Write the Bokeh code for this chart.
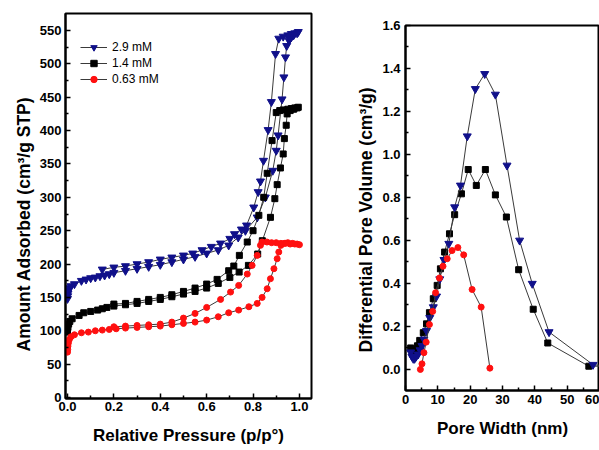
from bokeh.plotting import figure
from bokeh.layouts import row, column
from bokeh.models import FixedTicker, Range1d, Legend, LegendItem, NumeralTickFormatter, Title
from bokeh.embed import file_html
from bokeh.resources import INLINE

FONT = "Liberation Sans"

# ---------------- Left panel: N2 isotherms ----------------
series_labels = ["2.9 mM", "1.4 mM", "0.63 mM"]

p_29_ads = [0.000, 0.001, 0.002, 0.004, 0.008, 0.015, 0.03, 0.06, 0.08, 0.10, 0.12, 0.14, 0.16, 0.18, 0.20,
            0.25, 0.30, 0.35, 0.40, 0.45, 0.50, 0.55, 0.60, 0.65, 0.695, 0.736, 0.767, 0.818, 0.853, 0.885,
            0.90, 0.908, 0.925, 0.933, 0.940, 0.945, 0.955, 0.965, 0.975, 0.99]
v_29_ads = [148, 152, 156, 160, 164, 167, 170, 175, 177, 179, 180, 182, 183, 185, 187,
            190, 193, 196, 199, 203, 207, 211, 216, 221, 228, 240, 250, 270, 300, 340,
            370, 393, 447, 480, 510, 527, 535, 540, 543, 546]
p_29_des = [0.995, 0.98, 0.965, 0.95, 0.93, 0.911, 0.897, 0.879, 0.865, 0.845, 0.832, 0.822, 0.803, 0.772,
            0.75, 0.72, 0.70, 0.66, 0.62, 0.58, 0.54, 0.50, 0.45, 0.40, 0.35, 0.30, 0.25, 0.20, 0.15]
v_29_des = [548, 546, 545, 543, 541, 538, 515, 443, 401, 355, 324, 308, 285, 258,
            252, 245, 238, 231, 226, 221, 216, 213, 210, 207, 203, 200, 197, 195, 192]

p_14_ads = [0.000, 0.002, 0.005, 0.01, 0.02, 0.05, 0.07, 0.10, 0.13, 0.15, 0.17, 0.20, 0.25, 0.30, 0.35,
            0.40, 0.45, 0.50, 0.55, 0.60, 0.65, 0.70, 0.74, 0.78, 0.82, 0.84, 0.875, 0.894, 0.904, 0.918,
            0.930, 0.935, 0.943, 0.947, 0.96, 0.975, 0.99]
v_14_ads = [98, 105, 110, 114, 118, 123, 127, 129, 131, 133, 135, 137, 139, 141, 144,
            147, 151, 155, 159, 164, 171, 180, 188, 198, 215, 235, 270, 298, 319, 344,
            365, 388, 408, 425, 430, 432, 434]
p_14_des = [0.995, 0.98, 0.965, 0.95, 0.93, 0.915, 0.90, 0.882, 0.861, 0.846, 0.825, 0.80, 0.775, 0.741,
            0.717, 0.695, 0.645, 0.60, 0.55, 0.50, 0.45, 0.40, 0.35, 0.30, 0.25, 0.20]
v_14_des = [435, 434, 433, 432, 431, 430, 427, 385, 336, 300, 273, 250, 233, 213,
            197, 190, 177, 170, 164, 159, 154, 150, 147, 144, 141, 140]

p_063_ads = [0.000, 0.001, 0.002, 0.004, 0.008, 0.015, 0.03, 0.06, 0.09, 0.12, 0.15, 0.18, 0.21, 0.25, 0.30,
             0.35, 0.40, 0.45, 0.50, 0.55, 0.60, 0.65, 0.695, 0.738, 0.782, 0.818, 0.839, 0.861, 0.875, 0.89,
             0.904, 0.911, 0.92, 0.935, 0.95, 0.97, 0.99]
v_063_ads = [68, 72, 77, 82, 87, 91, 94, 97, 98, 100, 101, 102, 103, 104, 105,
             106, 107, 109, 111, 113, 116, 121, 127, 131, 136, 141, 150, 163, 178, 193,
             208, 218, 228, 231, 232, 231, 230]
p_063_des = [1.0, 0.98, 0.96, 0.94, 0.92, 0.90, 0.88, 0.86, 0.839, 0.832, 0.818, 0.796, 0.775, 0.738,
             0.703, 0.66, 0.60, 0.55, 0.50, 0.45, 0.40, 0.35, 0.30, 0.25, 0.20]
v_063_des = [229, 230, 230, 231, 231, 232, 232, 233, 233, 228, 213, 198, 185, 168,
             158, 147, 135, 126, 119, 113, 110, 109, 108, 107, 106]

iso_y_ticks = [0, 50, 100, 150, 200, 250, 300, 350, 400, 450, 500, 550]
iso_x_ticks = [0.0, 0.2, 0.4, 0.6, 0.8, 1.0]

# ---------------- Right panel: pore size distribution ----------------
w_29 = [1.6, 2.0, 2.4, 2.8, 3.3, 3.9, 4.5, 5.1, 5.7, 6.5, 7.5, 8.6, 9.6, 10.6, 11.9, 13.4, 15.2, 17.0,
        19.1, 21.6, 24.5, 27.8, 31.4, 35.3, 39.2, 44.4, 58.0, 63.0]
d_29 = [0.08, 0.06, 0.05, 0.05, 0.06, 0.07, 0.09, 0.11, 0.14, 0.18, 0.24, 0.29, 0.34, 0.42, 0.51, 0.585,
        0.755, 0.856, 1.085, 1.305, 1.375, 1.279, 0.949, 0.600, 0.399, 0.174, 0.022, 0.015]

w_14 = [1.6, 2.1, 2.6, 3.1, 3.7, 4.4, 5.5, 6.5, 7.4, 8.6, 9.8, 10.8, 12.1, 13.6, 15.2, 17.3, 19.4, 21.9,
        24.7, 27.8, 31.2, 35.0, 39.5, 44.0, 56.7, 63.0]
d_14 = [0.10, 0.09, 0.085, 0.09, 0.11, 0.135, 0.171, 0.212, 0.264, 0.329, 0.391, 0.468, 0.546, 0.631,
        0.720, 0.817, 0.930, 0.856, 0.930, 0.812, 0.709, 0.464, 0.280, 0.123, 0.015, 0.015]

w_063 = [4.6, 5.1, 5.7, 6.4, 7.4, 8.4, 9.3, 10.5, 11.6, 12.9, 14.4, 16.2, 18.0, 20.6, 23.4, 26.1]
d_063 = [0.0, 0.026, 0.078, 0.127, 0.209, 0.27, 0.357, 0.425, 0.48, 0.515, 0.553, 0.567, 0.533, 0.372,
         0.29, 0.006]

psd_x_ticks = [0, 10, 20, 30, 40, 50, 60]
psd_y_ticks = [0.0, 0.2, 0.4, 0.6, 0.8, 1.0, 1.2, 1.4, 1.6]

BLUE = "#10108a"
BLACK = "#000000"
RED = "#ff1010"
LINE = "#3a3a3a"


def style_axes(p):
    for ax in (p.xaxis[0], p.yaxis[0]):
        ax.axis_line_width = 2
        ax.axis_line_color = "black"
        ax.major_tick_in = 5
        ax.major_tick_out = 0
        ax.minor_tick_in = 3
        ax.minor_tick_out = 0
        ax.major_tick_line_width = 1.5
        ax.minor_tick_line_width = 1.5
        ax.major_label_text_font = FONT
        ax.major_label_text_font_style = "bold"
        ax.major_label_text_font_size = "13px"
        ax.major_label_text_color = "black"
        ax.axis_label_text_font = FONT
        ax.axis_label_text_font_style = "bold"
        ax.axis_label_text_color = "black"
    p.xaxis[0].axis_label_text_font_size = "17px"
    p.xgrid.visible = False
    p.ygrid.visible = False
    p.outline_line_color = "black"
    p.outline_line_width = 2
    p.background_fill_color = "white"
    p.border_fill_color = "white"


def y_title(p, text, offset, standoff):
    t = Title(text=text, align="left", offset=offset, standoff=standoff,
              text_font=FONT, text_font_size="17.5px", text_font_style="bold",
              text_color="black")
    p.add_layout(t, "left")


# ---- left figure ----
p1 = figure(width=320, height=450, output_backend="svg", toolbar_location=None,
            x_range=Range1d(-0.0086, 1.052), y_range=Range1d(-1.5, 575.5),
            min_border_left=65, min_border_right=9, min_border_top=13, min_border_bottom=52)
style_axes(p1)
p1.xaxis[0].ticker = FixedTicker(ticks=iso_x_ticks, minor_ticks=[0.1, 0.3, 0.5, 0.7, 0.9])
p1.yaxis[0].ticker = FixedTicker(ticks=iso_y_ticks, minor_ticks=[25 + 50 * i for i in range(11)])
p1.xaxis[0].formatter = NumeralTickFormatter(format="0.0")
p1.xaxis[0].axis_label = "Relative Pressure (p/p°)"
p1.xaxis[0].major_label_standoff = 3
p1.xaxis[0].axis_label_standoff = 12
p1.yaxis[0].major_label_standoff = 4
y_title(p1, "Amount Adsorbed (cm³/g STP)", 47, 6)

iso_sets = [
    (p_29_ads + p_29_des, v_29_ads + v_29_des, "inverted_triangle", BLUE, 8),
    (p_14_ads + p_14_des, v_14_ads + v_14_des, "square", BLACK, 6),
    (p_063_ads + p_063_des, v_063_ads + v_063_des, "circle", RED, 6),
]
items = []
for (xs, ys, mk, col, sz), lab in zip(iso_sets, series_labels):
    ln = p1.line(xs, ys, line_color=LINE, line_width=1)
    sc = p1.scatter(xs, ys, marker=mk, size=sz, fill_color=col, line_color=col)
    items.append(LegendItem(label=lab, renderers=[ln, sc]))

leg = Legend(items=items, location=(15, 311), margin=0, padding=0, spacing=0,
             glyph_width=27, glyph_height=16, label_height=16, label_standoff=5,
             label_text_font=FONT, label_text_font_size="12px", label_text_color="black",
             background_fill_alpha=0, border_line_alpha=0)
p1.add_layout(leg)

# ---- right figure ----
p2 = figure(width=279, height=450, output_backend="svg", toolbar_location=None,
            x_range=Range1d(0, 60), y_range=Range1d(-0.098, 1.6),
            min_border_left=85, min_border_right=0, min_border_top=25, min_border_bottom=60)
style_axes(p2)
p2.xaxis[0].ticker = FixedTicker(ticks=psd_x_ticks, minor_ticks=[5, 15, 25, 35, 45, 55])
p2.yaxis[0].ticker = FixedTicker(ticks=psd_y_ticks,
                                 minor_ticks=[0.1, 0.3, 0.5, 0.7, 0.9, 1.1, 1.3, 1.5])
p2.yaxis[0].formatter = NumeralTickFormatter(format="0.0")
p2.xaxis[0].axis_label = "Pore Width (nm)"
p2.xaxis[0].major_label_standoff = 4
p2.xaxis[0].axis_label_standoff = 12
p2.yaxis[0].major_label_standoff = 5
y_title(p2, "Differential Pore Volume (cm³/g)", 38, 7)

psd_sets = [
    (w_14, d_14, "square", BLACK, 6),
    (w_29, d_29, "inverted_triangle", BLUE, 8),
    (w_063, d_063, "circle", RED, 6),
]
for xs, ys, mk, col, sz in psd_sets:
    p2.line(xs, ys, line_color=LINE, line_width=1)
    p2.scatter(xs, ys, marker=mk, size=sz, fill_color=col, line_color=col)

layout = row(column(p1), column(p2))
open("out.html", "w").write(file_html(layout, INLINE))
